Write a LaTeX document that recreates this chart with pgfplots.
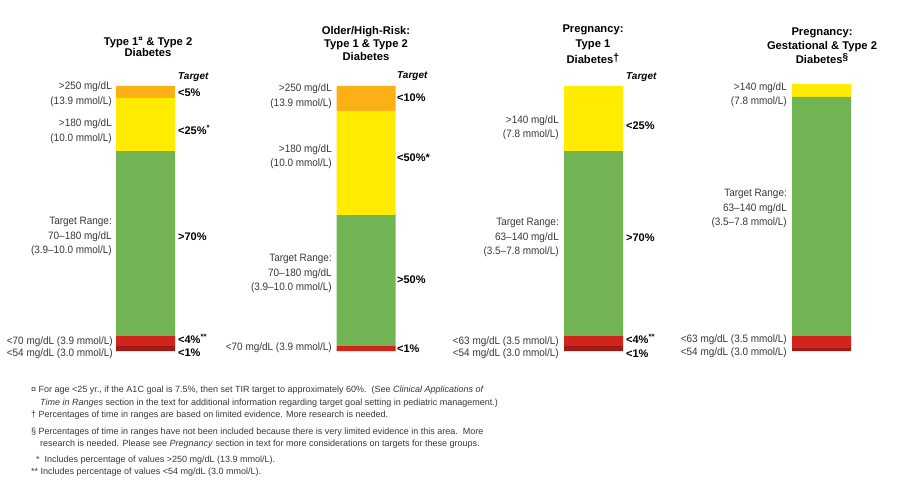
\documentclass[border=0pt]{standalone}
\usepackage{fontspec}
\setmainfont{Liberation Sans}
\newfontfamily\narrowfont[FakeStretch=0.93, Ligatures=TeX]{Liberation Sans}
\usepackage{pgfplots}
\pgfplotsset{compat=1.18}
\definecolor{cOrange}{RGB}{252,176,23}
\definecolor{cYellow}{RGB}{255,236,0}
\definecolor{cGreen}{RGB}{114,180,84}
\definecolor{cRed}{RGB}{210,35,28}
\definecolor{cDarkRed}{RGB}{158,27,24}
\definecolor{cLabel}{RGB}{55,55,55}

\begin{document}
\begin{tikzpicture}[
  lab/.style={anchor=east, align=right, text=cLabel, font=\narrowfont\fontsize{10.7}{14.5}\selectfont, inner sep=0pt},
  tgt/.style={anchor=west, font=\fontsize{11}{13}\selectfont\bfseries, inner sep=0pt},
  ttl/.style={align=center, font=\fontsize{11.2}{13}\selectfont\bfseries, inner sep=0pt},
  hdr/.style={anchor=west, font=\fontsize{10}{12}\selectfont\bfseries\itshape, inner sep=0pt},
  fn/.style={anchor=west, text=cLabel, font=\fontsize{9}{10}\selectfont, inner sep=0pt},
]
\begin{axis}[
  scale only axis, width=899pt, height=483pt,
  xmin=0, xmax=899, ymin=-132, ymax=351,
  hide axis, clip=false,
  ybar stacked, bar width=59,
]
% segment heights, bottom to top (bar total = 265)
\addplot[fill=cDarkRed, draw=none] coordinates {(145.5,5) (366,0) (593.5,5) (821.5,3)};
\addplot[fill=cRed, draw=none] coordinates {(145.5,10) (366,5) (593.5,10) (821.5,12)};
\addplot[fill=cGreen, draw=none] coordinates {(145.5,185) (366,131) (593.5,185) (821.5,239)};
\addplot[fill=cYellow, draw=none] coordinates {(145.5,53) (366,104) (593.5,65) (821.5,13)};
\addplot[fill=cOrange, draw=none] coordinates {(145.5,12) (366,25) (593.5,0) (821.5,0)};

% titles
\node[ttl, font=\fontsize{11.2}{10.5}\selectfont\bfseries] at (axis cs:148,{351-47}) {Type 1\textsuperscript{¤} \& Type 2\\Diabetes};
\node[ttl] at (axis cs:366,{351-43}) {Older/High-Risk:\\Type 1 \& Type 2\\Diabetes};
\node[ttl, font=\fontsize{11.2}{15.5}\selectfont\bfseries] at (axis cs:593,{351-44}) {Pregnancy:\\Type 1\\Diabetes\raisebox{0.3ex}{†}};
\node[ttl, font=\fontsize{11.2}{14}\selectfont\bfseries] at (axis cs:822,{351-46}) {Pregnancy:\\Gestational \& Type 2\\Diabetes\raisebox{0.55ex}{\fontsize{10}{12}\selectfont§}};

% "Target" headers
\node[hdr] at (axis cs:178,{351-77}) {Target};
\node[hdr] at (axis cs:397,{351-76}) {Target};
\node[hdr] at (axis cs:626,{351-77}) {Target};

% bar 1
\node[lab] at (axis cs:112,{351-94}) {>250 mg/dL\\(13.9 mmol/L)};
\node[lab] at (axis cs:112,{351-131}) {>180 mg/dL\\(10.0 mmol/L)};
\node[lab] at (axis cs:112,{351-236.5}) {Target Range:\\70--180 mg/dL\\(3.9--10.0 mmol/L)};
\node[lab] at (axis cs:113,{351-341.5}) {<70 mg/dL (3.9 mmol/L)};
\node[lab] at (axis cs:113,{351-354}) {<54 mg/dL (3.0 mmol/L)};
\node[tgt] at (axis cs:178,{351-93}) {<5\%};
\node[tgt] at (axis cs:178,{351-130}) {<25\%\textsuperscript{*}};
\node[tgt] at (axis cs:178,{351-237}) {>70\%};
\node[tgt] at (axis cs:178,{351-339}) {<4\%\textsuperscript{**}};
\node[tgt] at (axis cs:178,{351-353}) {<1\%};

% bar 2
\node[lab] at (axis cs:332,{351-96}) {>250 mg/dL\\(13.9 mmol/L)};
\node[lab] at (axis cs:332,{351-156.5}) {>180 mg/dL\\(10.0 mmol/L)};
\node[lab] at (axis cs:332,{351-273.5}) {Target Range:\\70--180 mg/dL\\(3.9--10.0 mmol/L)};
\node[lab] at (axis cs:332,{351-348}) {<70 mg/dL (3.9 mmol/L)};
\node[tgt] at (axis cs:397,{351-98}) {<10\%};
\node[tgt] at (axis cs:397,{351-158}) {<50\%*};
\node[tgt] at (axis cs:397,{351-280}) {>50\%};
\node[tgt] at (axis cs:397,{351-349}) {<1\%};

% bar 3
\node[lab] at (axis cs:559,{351-127.5}) {>140 mg/dL\\(7.8 mmol/L)};
\node[lab] at (axis cs:559,{351-237.5}) {Target Range:\\63--140 mg/dL\\(3.5--7.8 mmol/L)};
\node[lab] at (axis cs:559,{351-342}) {<63 mg/dL (3.5 mmol/L)};
\node[lab] at (axis cs:559,{351-354}) {<54 mg/dL (3.0 mmol/L)};
\node[tgt] at (axis cs:626,{351-126}) {<25\%};
\node[tgt] at (axis cs:626,{351-238}) {>70\%};
\node[tgt] at (axis cs:626,{351-339}) {<4\%\textsuperscript{**}};
\node[tgt] at (axis cs:626,{351-354}) {<1\%};

% bar 4
\node[lab] at (axis cs:787,{351-94.5}) {>140 mg/dL\\(7.8 mmol/L)};
\node[lab] at (axis cs:787,{351-208.5}) {Target Range:\\63--140 mg/dL\\(3.5--7.8 mmol/L)};
\node[lab] at (axis cs:787,{351-340}) {<63 mg/dL (3.5 mmol/L)};
\node[lab] at (axis cs:787,{351-353}) {<54 mg/dL (3.0 mmol/L)};

% footnotes
\node[fn] at (axis cs:31,{351-390}) {¤ For age <25 yr., if the A1C goal is 7.5\%, then set TIR target to approximately 60\%.\ \ (See \textit{Clinical Applications of}};
\node[fn] at (axis cs:40,{351-403}) {\textit{Time in Ranges} section in the text for additional information regarding target goal setting in pediatric management.)};
\node[fn] at (axis cs:31,{351-415}) {† Percentages of time in ranges are based on limited evidence. More research is needed.};
\node[fn] at (axis cs:31,{351-432}) {§ Percentages of time in ranges have not been included because there is very limited evidence in this area.\ \ More};
\node[fn] at (axis cs:40,{351-444}) {research is needed. Please see \textit{Pregnancy} section in text for more considerations on targets for these groups.};
\node[fn] at (axis cs:36,{351-460}) {*\ \ Includes percentage of values >250 mg/dL (13.9 mmol/L).};
\node[fn] at (axis cs:31,{351-472}) {** Includes percentage of values <54 mg/dL (3.0 mmol/L).};
\end{axis}
\pgfresetboundingbox
\path (current axis.south west) rectangle (current axis.north east);
\end{tikzpicture}
\end{document}
